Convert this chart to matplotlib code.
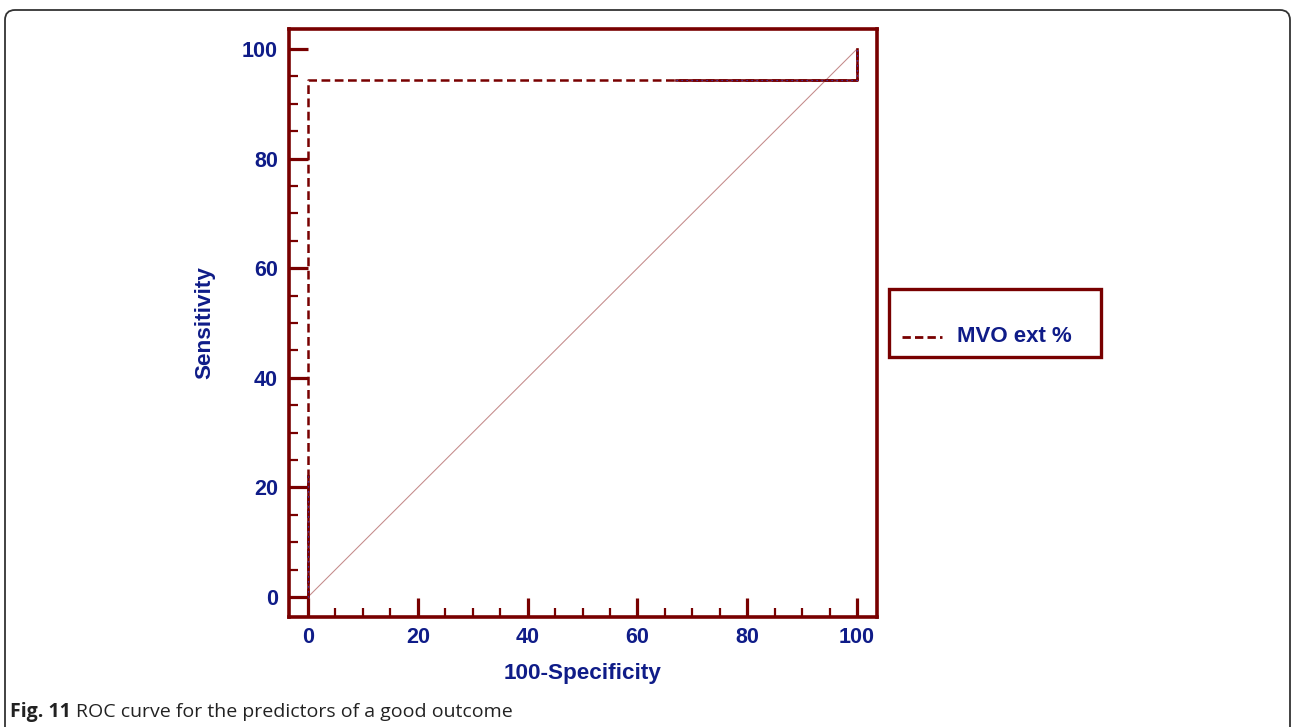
import matplotlib
matplotlib.use('Agg')
import matplotlib.pyplot as plt
from matplotlib.patches import FancyBboxPatch, Rectangle
from matplotlib.lines import Line2D
from matplotlib.transforms import IdentityTransform

# ROC curve for MVO ext %
roc_fpr = [0, 0, 100, 100]
roc_tpr = [0, 94.4, 94.4, 100]
# solid (overlaid) parts of the curve
solid_lo_fpr = [0, 0]
solid_lo_tpr = [0, 22]
solid_hi_fpr = [67, 100, 100]
solid_hi_tpr = [94.4, 94.4, 100]
# reference diagonal
diag = [0, 100]

ticks = [0, 20, 40, 60, 80, 100]
series_name = 'MVO ext %'

W, H = 1292, 727
RED = '#780000'
NAVY = '#0f1c88'

plt.rcParams['font.family'] = ['Liberation Sans', 'DejaVu Sans']

fig = plt.figure(figsize=(W / 100, H / 100), dpi=100)
# axes frame in pixels: left 289, right 877, top 29, bottom 617
ax = fig.add_axes([289 / W, (H - 617) / H, 588 / W, 588 / H])

ax.plot(diag, diag, color='#c48a8a', lw=0.75, zorder=1)
ax.plot(roc_fpr, roc_tpr, color=RED, lw=1.8, linestyle=(0, (3.5, 1.8)), zorder=2)
for xs, ys in [(solid_lo_fpr, solid_lo_tpr), (solid_hi_fpr, solid_hi_tpr)]:
    ax.plot(xs, ys, color=RED, lw=1.9, zorder=3)
    ax.plot(xs, ys, color='#3a3ac8', lw=0.9, linestyle=(0, (1, 3)), zorder=4)

ax.set_xlim(-3.46, 103.64)
ax.set_ylim(-3.65, 103.65)
ax.set_xticks(ticks)
ax.set_yticks(ticks)
ax.set_xticks(range(0, 101, 5), minor=True)
ax.set_yticks(range(0, 101, 5), minor=True)

for s in ax.spines.values():
    s.set_color(RED)
    s.set_linewidth(2.6)

ax.tick_params(which='major', direction='in', length=13.5, width=2.3, color=RED,
               labelsize=15.5, labelcolor=NAVY, pad=7)
ax.tick_params(which='minor', direction='in', length=6.5, width=1.6, color=RED)
ax.tick_params(axis='y', pad=8)
for lab in ax.get_xticklabels() + ax.get_yticklabels():
    lab.set_fontweight('bold')

ax.set_xlabel('100-Specificity', fontsize=16.2, fontweight='bold', color=NAVY, labelpad=11)
ax.set_ylabel('Sensitivity', fontsize=16.2, fontweight='bold', color=NAVY, labelpad=19)

# legend box drawn in pixel coordinates (y measured from top)
def px(x, y):
    return x / W, 1 - y / H

lx0, ly0 = px(889, 357)
fig.add_artist(Rectangle((lx0, ly0), 212 / W, 68 / H, transform=fig.transFigure,
                         fill=False, edgecolor=RED, lw=2.4))
x1, y1 = px(902, 337)
x2, _ = px(942, 337)
fig.add_artist(Line2D([x1, x2], [y1, y1], transform=fig.transFigure,
                      color=RED, lw=2, linestyle=(0, (3, 1.5))))
tx, ty = px(957, 337)
fig.text(tx, ty, series_name, fontsize=16, fontweight='bold', color=NAVY,
         va='center', ha='left')

# outer rounded frame
fig.add_artist(FancyBboxPatch((5, -10), 1285, H, transform=IdentityTransform(),
                              boxstyle='round,pad=0,rounding_size=10',
                              fill=False, edgecolor='#333333', lw=1.3))

# caption
cx, cy = px(10, 717)
t1 = fig.text(cx, cy, 'Fig. 11', fontsize=14, fontweight='bold', color='#222222',
              family=['Open Sans', 'DejaVu Sans'], va='baseline')
fig.canvas.draw()
bb = t1.get_window_extent()
fig.text((bb.x1 + 5) / W, cy, 'ROC curve for the predictors of a good outcome',
         fontsize=14, color='#222222', family=['Open Sans', 'DejaVu Sans'], va='baseline')

fig.savefig('out.png', dpi=100)
